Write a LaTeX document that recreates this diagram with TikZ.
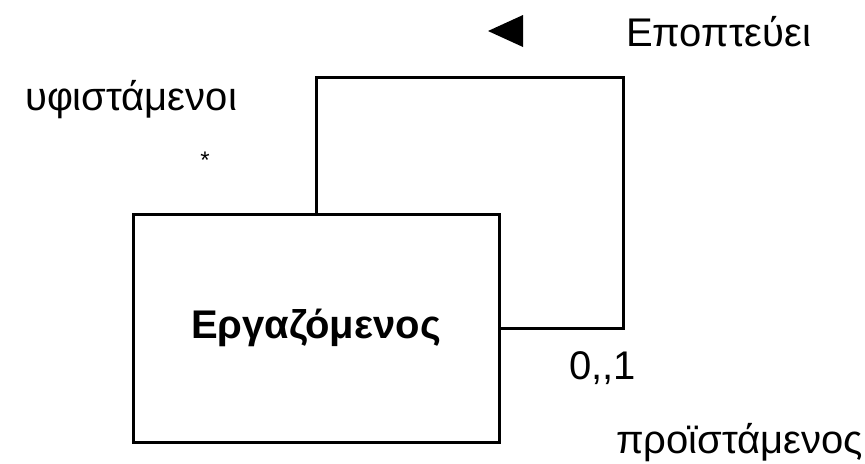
\documentclass[tikz,border=0pt]{standalone}
\usepackage{fontspec}
\setmainfont{Liberation Sans}
\usetikzlibrary{positioning}

\begin{document}
\begin{tikzpicture}[x=0.5pt,y=-0.5pt,line width=1.5pt,
    classbox/.style={draw,minimum width=183pt,minimum height=114pt,
      font=\fontsize{20}{24}\selectfont\bfseries},
    lbl/.style={font=\fontsize{20}{24}\selectfont}]
  \useasboundingbox (0,0) rectangle (865,463);
  \node[classbox] (emp) at (316,328) {Εργαζόμενος};
  % self association
  \coordinate (lt) at (316,77);
  \coordinate (rt) at (623,77);
  \coordinate (rb) at (623,328);
  \draw (emp.north) -- (lt) -- (rt) -- (rb) -- (emp.east);
  \fill (523,15) -- (488,31) -- (523,47) -- cycle;
  \node[lbl,anchor=west] (assoc) at (618,32) {Εποπτεύει};
  \node[lbl,anchor=west] (sub) at (17,100) {υφιστάμενοι};
  \node[font=\fontsize{12}{14}\selectfont] (subm) at (205,160) {*};
  \node[lbl,anchor=west] (supm) at (561,368) {0,{},1};
  \node[lbl,anchor=west] (sup) at (608,443) {προϊστάμενος};
\end{tikzpicture}
\end{document}
